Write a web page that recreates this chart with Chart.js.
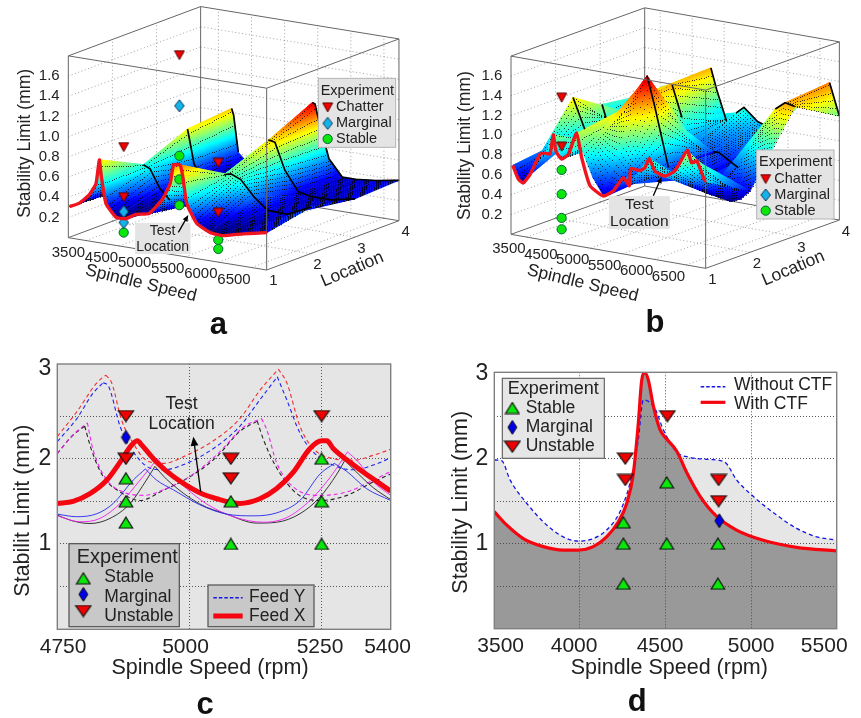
<!DOCTYPE html>
<html>
<head>
<meta charset="utf-8">
<title>Stability limit charts</title>
<script src="https://cdn.jsdelivr.net/npm/chart.js@4/dist/chart.umd.min.js"></script>
<style>
html, body { margin: 0; padding: 0; background: #fff; }
canvas { position: absolute; display: block; }
</style>
</head>
<body>
<canvas id="panel-a" width="430" height="340" style="left:0;top:0"></canvas>
<canvas id="panel-b" width="431" height="340" style="left:430px;top:0"></canvas>
<canvas id="panel-c" width="430" height="378" style="left:0;top:340px"></canvas>
<canvas id="panel-d" width="431" height="378" style="left:430px;top:340px"></canvas>
<script>
// ---- panel a: surface, one row per location
const aSpeeds = [3750,3900,4050,4150,4200,4230,4300,4450,4600,4750,4950,5150,5270,5320,5420,5460,5520,5670,5870,6070,6370,6730];
const aLoc1 = [.31,.36,.46,.58,.82,.66,.40,.28,.28,.34,.37,.53,.70,.89,.90,.79,.53,.35,.28,.27,.32,.37];
const aLoc2 = [.30,.34,.42,.50,.61,.60,.58,.40,.30,.28,.30,.38,.48,.58,.64,.65,.66,.62,.47,.36,.35,.46];
const aLoc3 = [.30,.36,.50,.65,.80,.70,.46,.33,.30,.30,.34,.46,.60,.72,.82,.82,.81,.55,.36,.33,.33,.38];
const aLoc4 = [.30,.38,.55,.70,.84,.78,.42,.32,.30,.32,.40,.58,.80,.95,1.03,1.02,.85,.50,.34,.34,.36,.40];
const aChatter = [[4568,.987],[4568,.49],[5409,1.987],[5996,.983],[5996,.49]];
const aMarginal = [[4568,.347],[4568,.24],[5409,1.485]];
const aStable = [[4568,.14],[5409,.99],[5409,.756],[5409,.50],[5996,.22],[5996,.13]];

// ---- panel b: surface, one row per location
const bSpeeds = [3786,3878,3954,4030,4213,4290,4427,4549,4671,4793,4884,5037,5189,5311,5524,5616,5768,5921,6134,6317,6500,6652,6805];
const bLoc1 = [.70,.57,.54,.62,.86,.88,1.08,.85,.91,1.14,.95,.72,.57,.58,.77,.72,.87,1.01,.86,.93,1.16,1.07,.87];
const bLoc2 = [.72,.80,.95,1.25,.95,.90,.85,.85,.95,1.10,1.25,1.45,1.60,1.30,.71,.68,.62,.58,.52,.50,.48,.52,.62];
const bLoc3 = [.99,.80,.74,.80,.95,1.0,1.1,1.18,1.25,1.29,1.31,1.0,.75,.72,.71,.71,.65,.59,.75,1.08,1.25,1.33,1.31];
const bLoc4 = [.90,.95,1.0,1.04,1.07,.80,.55,.70,.90,1.31,1.10,.80,.90,.97,.85,.83,.90,1.0,1.10,1.20,1.30,1.37,1.05];
const bTestSpeeds = [3783,3872,3948,4055,4210,4290,4366,4418,4460,4549,4655,4783,4863,4994,5201,5360,5515,5610,5631,5777,5854,5921,6012,6165,6323,6518,6585,6665,6796];
const bTestLimit = [.70,.57,.54,.64,.86,.88,.88,1.08,.92,.85,.91,1.14,.90,.63,.55,.62,.77,.70,.875,.87,.91,1.01,.89,.86,.93,1.16,1.04,1.07,.87];
const bChatter = [[4549,1.47],[4549,.975]];
const bStable = [[4549,.74],[4549,.495],[4549,.255],[4549,.14]];

// ---- shared 3d axis ticks
const speedTickValues = [4000,4500,5000,5500,6000,6500];
const speedTickLabels = ['3500','4500','5000','5500','6000','6500'];
const locationTicks = [1,2,3,4];
const limitTicks = [.2,.4,.6,.8,1.0,1.2,1.4,1.6];

// ---- panel c
const cBlueSolid = [[4750,1.35],[4787,1.32],[4825,1.355],[4856,1.475],[4894,1.75],[4917,1.88],[4938,1.75],[4970,1.635],[5020,1.46],[5071,1.35],[5122,1.33],[5166,1.365],[5210,1.51],[5248,1.82],[5275,1.945],[5299,1.85],[5336,1.65],[5382,1.51]];
const cMagentaSolid = [[4750,1.33],[4793,1.26],[4831,1.30],[4869,1.475],[4907,1.75],[4940,2.0],[4957,1.87],[4995,1.65],[5033,1.47],[5084,1.32],[5141,1.255],[5185,1.31],[5229,1.51],[5267,1.78],[5300,2.08],[5321,1.96],[5349,1.73],[5382,1.57]];
const cBlackSolid = [[4750,1.34],[4774,1.28],[4812,1.24],[4850,1.30],[4888,1.475],[4919,1.75],[4935,1.91],[4957,1.76],[5020,1.47],[5071,1.35],[5128,1.245],[5166,1.255],[5210,1.355],[5248,1.55],[5280,1.82],[5295,1.98],[5311,1.88],[5349,1.66],[5382,1.52]];
const cRedDash = [[4750,2.26],[4787,2.55],[4825,2.89],[4842,2.98],[4853,2.89],[4872,2.45],[4894,2.18],[4919,1.98],[4951,1.945],[4995,2.04],[5046,2.21],[5096,2.47],[5134,2.80],[5169,3.05],[5185,2.89],[5210,2.38],[5235,2.12],[5273,2.0],[5311,1.98],[5349,2.04],[5382,2.11]];
const cBlueDash = [[4750,2.2],[4787,2.47],[4818,2.77],[4837,2.89],[4847,2.85],[4869,2.38],[4894,2.08],[4926,1.89],[4951,1.87],[4995,1.945],[5046,2.12],[5096,2.38],[5134,2.69],[5167,2.96],[5185,2.69],[5210,2.30],[5235,2.08],[5273,1.925],[5311,1.87],[5349,1.925],[5382,2.01]];
const cMagentaDash = [[4750,2.06],[4780,2.28],[4807,2.42],[4818,2.10],[4844,1.75],[4875,1.61],[4913,1.57],[4957,1.65],[5008,1.82],[5058,2.08],[5103,2.37],[5137,2.47],[5147,2.34],[5166,1.95],[5197,1.67],[5248,1.57],[5299,1.61],[5343,1.73],[5382,1.85]];
const cBlackDash = [[4750,2.06],[4777,2.26],[4802,2.38],[4815,2.10],[4837,1.79],[4869,1.61],[4907,1.51],[4951,1.63],[5002,1.79],[5052,2.02],[5096,2.32],[5129,2.44],[5141,2.22],[5166,1.89],[5204,1.59],[5248,1.51],[5299,1.57],[5343,1.71],[5382,1.82]];
const cFeedX = [[4750,1.475],[4780,1.50],[4812,1.59],[4844,1.75],[4869,1.96],[4891,2.16],[4902,2.21],[4910,2.16],[4938,1.96],[4970,1.79],[5020,1.60],[5052,1.53],[5096,1.475],[5134,1.53],[5166,1.65],[5197,1.84],[5229,2.12],[5251,2.21],[5261,2.21],[5273,2.12],[5311,1.93],[5349,1.76],[5382,1.62]];
const cStable = [[4880,1.25],[4880,1.5],[4880,1.77],[5079,1.5],[5079,1.0],[5251,2.0],[5251,1.5],[5251,1.0]];
const cMarginal = [[4880,2.25]];
const cUnstable = [[4880,2.5],[4880,2.0],[5079,2.0],[5079,1.77],[5251,2.5]];
const cGridX = [5000,5250];
const cLabelX = [4761,4993,5248,5376];
const cLabelText = ['4750','5000','5250','5400'];
const cGridY = [.5,1,1.5,2,2.5];
const cLabelY = {1:'1',2:'2',3.06:'3'};

// ---- panel d
const dWithoutCtf = [[3500,1.984],[3543,1.976],[3592,1.75],[3689,1.475],[3806,1.22],[3903,1.08],[3991,1.03],[4078,1.06],[4156,1.16],[4234,1.376],[4292,1.71],[4341,2.22],[4370,2.69],[4438,2.59],[4487,2.34],[4565,2.08],[4643,2.015],[4760,1.99],[4847,1.957],[4915,1.75],[4993,1.59],[5149,1.337],[5266,1.18],[5383,1.08],[5500,1.043]];
const dWithCtf = [[3500,1.376],[3572,1.22],[3669,1.06],[3786,.965],[3903,.925],[3991,.925],[4078,.965],[4156,1.08],[4224,1.255],[4273,1.47],[4312,1.82],[4341,2.41],[4361,2.92],[4380,3.01],[4400,2.92],[4429,2.62],[4468,2.34],[4507,2.23],[4565,2.09],[4623,1.84],[4701,1.56],[4799,1.32],[4915,1.16],[5071,1.04],[5266,.957],[5500,.914]];
const dStable = [[4254,1.25],[4254,1.0],[4254,.53],[4507,1.72],[4507,1.0],[4806,1.0],[4806,.53]];
const dMarginal = [[4814,1.27]];
const dUnstable = [[4265,2.0],[4265,1.75],[4511,2.5],[4810,1.75],[4810,1.5]];
const dGridX = [4000,4500,5000];
const dLabelX = [3537,3966,4468,5000,5427];
const dLabelText = ['3500','4000','4500','5000','5500'];
const dGridY = [.5,1,1.5,2,2.5];
const dLabelY = {1:'1',2:'2',3:'3'};

Chart.defaults.font.family = '"Liberation Sans", Arial, sans-serif';
Chart.defaults.color = '#222';
Chart.defaults.animation = false;

const FONT = '"Liberation Sans", Arial, sans-serif';
const z3 = v => v / 3; // layout numbers below were measured on 3x crops

function pairs(list) {
    return list.map(p => ({ x: p[0], y: p[1] }));
}

// break the line at each sharp crest, so the monotone curve keeps its cusp
function withCusps(list) {
    const out = [];
    list.forEach((p, i) => {
        out.push({ x: p[0], y: p[1] });
        if (i > 0 && i < list.length - 1 && p[1] > list[i - 1][1] && p[1] > list[i + 1][1]) {
            out.push({ x: NaN, y: NaN }, { x: p[0], y: p[1] });
        }
    });
    return out;
}

// orthographic projection of (speed, location, limit) on the canvas
function project(view, speed, loc, limit) {
    const u = (speed - view.sMin) / (view.sMax - view.sMin);
    return {
        x: view.x0 + view.sdx * u + view.ldx * (loc - 1),
        y: view.y0 + view.sdy * u + view.ldy * (loc - 1) + view.zdy * limit
    };
}

const jetStops = [[0,'#00007a'],[.12,'#0000ff'],[.37,'#00ffff'],[.62,'#ffff00'],[.87,'#ff0000'],[1,'#800000']];

// paint one triangle with the exact linear colour ramp of its three limits
function fillTriangle(ctx, pts, ts) {
    const [a, b, c] = pts;
    const det = (b.x - a.x) * (c.y - a.y) - (c.x - a.x) * (b.y - a.y);
    let style = '#0000ff';
    if (Math.abs(det) > 1e-6) {
        const gx = ((ts[1] - ts[0]) * (c.y - a.y) - (ts[2] - ts[0]) * (b.y - a.y)) / det;
        const gy = ((ts[2] - ts[0]) * (b.x - a.x) - (ts[1] - ts[0]) * (c.x - a.x)) / det;
        const g2 = gx * gx + gy * gy;
        if (g2 > 1e-10) {
            const k0 = (0 - ts[0]) / g2;
            const k1 = (1 - ts[0]) / g2;
            const grad = ctx.createLinearGradient(a.x + gx * k0, a.y + gy * k0, a.x + gx * k1, a.y + gy * k1);
            jetStops.forEach(s => grad.addColorStop(s[0], s[1]));
            style = grad;
        }
    }
    ctx.beginPath();
    ctx.moveTo(a.x, a.y);
    ctx.lineTo(b.x, b.y);
    ctx.lineTo(c.x, c.y);
    ctx.closePath();
    ctx.fillStyle = style;
    ctx.strokeStyle = style;
    ctx.lineWidth = 0.7;
    ctx.fill();
    ctx.stroke();
}

function drawSurface(chart, cfg) {
    const ctx = chart.ctx;
    const xs = chart.scales.x, ys = chart.scales.y;
    const toPx = (s, l, v) => {
        const p = project(cfg.view, s, l, v);
        return { x: xs.getPixelForValue(p.x), y: ys.getPixelForValue(p.y) };
    };
    const tOf = v => (v - cfg.lo) / (cfg.hi - cfg.lo);
    const drawRidge = r => {
        ctx.strokeStyle = '#000';
        ctx.lineWidth = 1.7;
        (cfg.ridges[r] || []).forEach(seg => {
            ctx.beginPath();
            for (let i = seg[0]; i <= seg[1]; i++) {
                const p = toPx(cfg.speeds[i], r + 1, cfg.rows[r][i]);
                ctx.lineTo(p.x, p.y);
            }
            ctx.stroke();
        });
    };
    ctx.save();
    // back to front: far location first, low speed first
    for (let r = cfg.rows.length - 2; r >= 0; r--) {
        for (let i = 0; i < cfg.speeds.length - 1; i++) {
            const s0 = cfg.speeds[i], s1 = cfg.speeds[i + 1];
            const z00 = cfg.rows[r][i], z10 = cfg.rows[r][i + 1];
            const z01 = cfg.rows[r + 1][i], z11 = cfg.rows[r + 1][i + 1];
            const p00 = toPx(s0, r + 1, z00), p10 = toPx(s1, r + 1, z10);
            const p01 = toPx(s0, r + 2, z01), p11 = toPx(s1, r + 2, z11);
            fillTriangle(ctx, [p01, p11, p00], [tOf(z01), tOf(z11), tOf(z00)]);
            fillTriangle(ctx, [p11, p10, p00], [tOf(z11), tOf(z10), tOf(z00)]);
            // mesh dots, the dark grain of the surface
            ctx.fillStyle = 'rgba(0,0,0,0.75)';
            const firstS = Math.ceil(s0 / cfg.meshSpeed) * cfg.meshSpeed;
            for (let s = firstS; s < s1; s += cfg.meshSpeed) {
                const a = (s - s0) / (s1 - s0);
                for (let j = 0; j < cfg.meshLoc; j++) {
                    const b = j / cfg.meshLoc;
                    const front = z00 + (z10 - z00) * a;
                    const back = z01 + (z11 - z01) * a;
                    const p = toPx(s, r + 1 + b, front + (back - front) * b);
                    ctx.fillRect(Math.round(p.x), Math.round(p.y), 1, 1);
                }
            }
        }
        drawRidge(r + 1);
    }
    ctx.restore();
}

function drawLabel(ctx, text, x, y, font, opts) {
    const o = opts || {};
    ctx.save();
    ctx.translate(z3(x), z3(y));
    if (o.rot) ctx.rotate(o.rot * Math.PI / 180);
    ctx.font = font;
    ctx.fillStyle = o.color || '#222';
    ctx.textAlign = o.align || 'center';
    ctx.textBaseline = 'middle';
    ctx.fillText(text, 0, 0);
    ctx.restore();
}

function drawBox(ctx, x0, y0, x1, y1, fill, stroke, width) {
    ctx.save();
    ctx.fillStyle = fill;
    ctx.fillRect(z3(x0), z3(y0), z3(x1 - x0), z3(y1 - y0));
    ctx.strokeStyle = stroke;
    ctx.lineWidth = width || 1;
    ctx.strokeRect(z3(x0), z3(y0), z3(x1 - x0), z3(y1 - y0));
    ctx.restore();
}

function drawArrow(ctx, x0, y0, x1, y1, head) {
    const a = Math.atan2(y1 - y0, x1 - x0);
    ctx.save();
    ctx.strokeStyle = '#000';
    ctx.fillStyle = '#000';
    ctx.lineWidth = 1.3;
    ctx.beginPath();
    ctx.moveTo(z3(x0), z3(y0));
    ctx.lineTo(z3(x1) - Math.cos(a) * head * 0.6, z3(y1) - Math.sin(a) * head * 0.6);
    ctx.stroke();
    ctx.beginPath();
    ctx.moveTo(z3(x1), z3(y1));
    ctx.lineTo(z3(x1) - Math.cos(a - .4) * head, z3(y1) - Math.sin(a - .4) * head);
    ctx.lineTo(z3(x1) - Math.cos(a + .4) * head, z3(y1) - Math.sin(a + .4) * head);
    ctx.closePath();
    ctx.fill();
    ctx.restore();
}

function legendMarker(ctx, m, x, y) {
    ctx.save();
    ctx.fillStyle = m.fill;
    ctx.strokeStyle = m.stroke;
    ctx.lineWidth = 1;
    Chart.helpers.drawPoint(ctx, { pointStyle: m.style, radius: m.radius, rotation: 0, borderWidth: 1 }, z3(x), z3(y));
    ctx.restore();
}

// marker images, so a triangle is centred on its value and has the right width
function markerImage(w, h, path, fill, stroke, lineWidth) {
    const c = document.createElement('canvas');
    c.width = Math.ceil(w) + 2;
    c.height = Math.ceil(h) + 2;
    const g = c.getContext('2d');
    g.translate(c.width / 2, c.height / 2);
    g.beginPath();
    path.forEach((p, i) => {
        if (i === 0) g.moveTo(p[0] * w / 2, p[1] * h / 2);
        else g.lineTo(p[0] * w / 2, p[1] * h / 2);
    });
    g.closePath();
    g.fillStyle = fill;
    g.strokeStyle = stroke;
    g.lineWidth = lineWidth;
    g.lineJoin = 'miter';
    g.fill();
    g.stroke();
    return c;
}
const upPath = [[0,-1],[1,1],[-1,1]];
const downPath = [[-1,-1],[1,-1],[0,1]];
const diamondPath = [[0,-1],[1,0],[0,1],[-1,0]];

// ---- 3d panels
function gridPoints(view) {
    const out = [];
    const seg = (a, b) => {
        out.push(project(view, ...a), project(view, ...b), { x: NaN, y: NaN });
    };
    limitTicks.forEach(v => {
        seg([view.sMin, 1, v], [view.sMin, 4, v]);
        seg([view.sMin, 4, v], [view.sMax, 4, v]);
    });
    speedTickValues.forEach(s => {
        seg([s, 4, 0], [s, 4, view.zMax]);
        seg([s, 1, 0], [s, 4, 0]);
    });
    locationTicks.slice(1, 3).forEach(l => {
        seg([view.sMin, l, 0], [view.sMin, l, view.zMax]);
        seg([view.sMin, l, 0], [view.sMax, l, 0]);
    });
    return out;
}

function boxEdges(view, corners) {
    const out = [];
    corners.forEach(e => {
        out.push(project(view, ...e[0]), project(view, ...e[1]), { x: NaN, y: NaN });
    });
    return out;
}

function markerDataset(view, list, style) {
    return {
        label: style.label,
        data: list.map(p => project(view, p[0], 1, p[1])),
        pointStyle: style.style,
        pointRadius: style.radius,
        pointBackgroundColor: style.fill,
        pointBorderColor: style.stroke,
        pointBorderWidth: 1,
        showLine: false,
        order: 1
    };
}

const chatterMark = { label: 'Chatter', style: markerImage(10, 9, downPath, '#f00000', '#500', 1), radius: 6, fill: '#f00000', stroke: '#400' };
const marginalMark = { label: 'Marginal', style: markerImage(9.5, 12, diamondPath, '#12b4ea', '#135', 1), radius: 5.5, fill: '#12b4ea', stroke: '#137' };
const stableMark = { label: 'Stable', style: 'circle', radius: 4.6, fill: '#0be60b', stroke: '#063' };

function surfaceChart(id, cfg) {
    const view = cfg.view;
    const { sMin, sMax, zMax } = view;
    const back = [[[sMin,1,0],[sMin,4,0]], [[sMin,4,0],[sMax,4,0]], [[sMin,4,0],[sMin,4,zMax]]];
    const front = [
        [[sMin,1,0],[sMax,1,0]], [[sMax,1,0],[sMax,4,0]], [[sMin,1,0],[sMin,1,zMax]],
        [[sMax,4,0],[sMax,4,zMax]], [[sMax,1,0],[sMax,1,zMax]],
        [[sMin,1,zMax],[sMax,1,zMax]], [[sMax,1,zMax],[sMax,4,zMax]],
        [[sMin,1,zMax],[sMin,4,zMax]], [[sMin,4,zMax],[sMax,4,zMax]]
    ];
    const canvas = document.getElementById(id);
    return new Chart(canvas, {
        type: 'scatter',
        data: {
            datasets: [
                { label: 'grid', data: gridPoints(view), showLine: true, pointRadius: 0, borderColor: '#8a8a8a', borderWidth: .8, borderDash: [1, 2.5], order: 6 },
                { label: 'back', data: boxEdges(view, back), showLine: true, pointRadius: 0, borderColor: '#666', borderWidth: 1, order: 5 },
                { label: 'surface', data: cfg.rows[0].map((v, i) => project(view, cfg.speeds[i], 1, v)), pointRadius: 0, showLine: false, order: 4 },
                { label: 'box', data: boxEdges(view, front), showLine: true, pointRadius: 0, borderColor: '#666', borderWidth: 1, order: 3 },
                markerDataset(view, cfg.chatter, chatterMark),
                markerDataset(view, cfg.marginal, marginalMark),
                markerDataset(view, cfg.stable, stableMark),
                { label: 'Test location', data: cfg.testSpeeds.map((s, i) => project(view, s, 1, cfg.testLimit[i])), showLine: true, pointRadius: 0, borderColor: '#f0141e', borderWidth: 3.4, borderJoinStyle: 'round', tension: .15, order: 0 }
            ]
        },
        options: {
            responsive: false,
            layout: { padding: 0, autoPadding: false },
            plugins: { legend: { display: false }, tooltip: { enabled: false } },
            scales: {
                x: { type: 'linear', display: false, min: 0, max: canvas.width },
                y: { type: 'linear', display: false, min: 0, max: canvas.height, reverse: true }
            }
        },
        plugins: [{
            id: 'surfacePanel',
            beforeDatasetDraw(chart, args) {
                if (chart.data.datasets[args.index].label === 'surface') drawSurface(chart, cfg);
            },
            afterDatasetsDraw(chart) {
                cfg.decorate(chart.ctx, view);
            }
        }]
    });
}

function axisLabels3d(ctx, view, o) {
    const tickFont = '15px ' + FONT;
    limitTicks.forEach(v => {
        const p = project(view, view.sMin, 1, v);
        drawLabel(ctx, v.toFixed(1), p.x * 3 - 26, p.y * 3, tickFont, { align: 'right' });
    });
    speedTickValues.forEach((s, i) => {
        const p = project(view, s, 1, 0);
        drawLabel(ctx, speedTickLabels[i], p.x * 3 - 53, p.y * 3 + 36, tickFont);
    });
    locationTicks.forEach(l => {
        const p = project(view, view.sMax, l, 0);
        drawLabel(ctx, String(l), p.x * 3 + 20, p.y * 3 + 34, tickFont);
    });
    const titleFont = '17.5px ' + FONT;
    drawLabel(ctx, 'Stability Limit (mm)', o.limitTitle[0], o.limitTitle[1], titleFont, { rot: -90 });
    drawLabel(ctx, 'Spindle Speed', o.speedTitle[0], o.speedTitle[1], titleFont, { rot: 13.4 });
    drawLabel(ctx, 'Location', o.locTitle[0], o.locTitle[1], titleFont, { rot: -23 });
}

function legend3d(ctx, x0, y0, x1, y1, textX, markX, titleY, rowY) {
    drawBox(ctx, x0, y0, x1, y1, '#e4e4e4', '#b5b5b5', 1);
    drawLabel(ctx, 'Experiment', x0 + 7, titleY, '14.5px ' + FONT, { align: 'left' });
    [chatterMark, marginalMark, stableMark].forEach((m, i) => {
        legendMarker(ctx, m, markX, rowY[i]);
        drawLabel(ctx, m.label, textX, rowY[i], '14.5px ' + FONT, { align: 'left' });
    });
}

surfaceChart('panel-a', {
    view: { x0: 205/3, y0: 713/3, sdx: 595/3, sdy: 97/3, ldx: 132.3/3, ldy: -49.3/3, zdy: -303/3, sMin: 3732, sMax: 6727, zMax: 1.8 },
    speeds: aSpeeds,
    rows: [aLoc1, aLoc2, aLoc3, aLoc4],
    ridges: { 1: [[4,8],[14,21]], 2: [[4,7],[14,21]], 3: [[4,6],[14,21]] },
    lo: .27, hi: 1.12, meshSpeed: 36, meshLoc: 19,
    chatter: aChatter, marginal: aMarginal, stable: aStable,
    testSpeeds: aSpeeds, testLimit: aLoc1,
    decorate(ctx, view) {
        axisLabels3d(ctx, view, { limitTitle: [75, 430], speedTitle: [423, 850], locTitle: [1057, 808] });
        legend3d(ctx, 955, 235, 1187, 442, 1008, 983, 272, [322, 370, 417]);
        drawBox(ctx, 407, 670, 570, 760, '#e4e4e4', '#e4e4e4', 0);
        drawLabel(ctx, 'Test', 488, 692, '14px ' + FONT);
        drawLabel(ctx, 'Location', 488, 741, '14px ' + FONT);
        drawArrow(ctx, 535, 697, 565, 645, 7);
        drawLabel(ctx, 'a', 655, 975, 'bold 31px ' + FONT, { color: '#111' });
    }
});

surfaceChart('panel-b', {
    view: { x0: 243/3, y0: 703/3, sdx: 584/3, sdy: 102/3, ldx: 133.7/3, ldy: -48.3/3, zdy: -297/3, sMin: 3756, sMax: 6805, zMax: 1.8 },
    speeds: bSpeeds,
    rows: [bLoc1, bLoc2, bLoc3, bLoc4],
    ridges: { 1: [[3,4],[12,14]], 2: [[0,2],[10,11],[14,17],[20,22]], 3: [[9,11],[12,15],[21,22]] },
    lo: .47, hi: 1.68, meshSpeed: 36, meshLoc: 19,
    chatter: bChatter, marginal: [], stable: bStable,
    testSpeeds: bTestSpeeds, testLimit: bTestLimit,
    decorate(ctx, view) {
        axisLabels3d(ctx, view, { limitTitle: [105, 437], speedTitle: [458, 850], locTitle: [1090, 805] });
        legend3d(ctx, 980, 450, 1212, 657, 1033, 1007, 487, [537, 585, 632]);
        drawBox(ctx, 538, 590, 718, 685, '#e4e4e4', '#e4e4e4', 0);
        drawLabel(ctx, 'Test', 628, 613, '15.5px ' + FONT);
        drawLabel(ctx, 'Location', 628, 666, '15.5px ' + FONT);
        drawArrow(ctx, 670, 587, 695, 530, 7);
        drawLabel(ctx, 'b', 675, 970, 'bold 31px ' + FONT, { color: '#111' });
    }
});

// ---- 2d panels
const stableTri = { style: markerImage(13.5, 11, upPath, '#0be60b', '#111', 1.2), radius: 8, fill: '#0be60b', stroke: '#111' };
const unstableTri = { style: markerImage(15.5, 11, downPath, '#f00000', '#111', 1.2), radius: 9, fill: '#f00000', stroke: '#111' };
const blueDiamond = { style: markerImage(9, 14, diamondPath, '#0000e6', '#111', 1), radius: 8, fill: '#0000e6', stroke: '#111' };

function curve(label, list, color, width, dash, extra) {
    return Object.assign({
        label: label,
        data: pairs(list),
        showLine: true,
        pointRadius: 0,
        borderColor: color,
        borderWidth: width,
        borderDash: dash || [],
        cubicInterpolationMode: 'monotone'
    }, extra);
}

function thinCurve(label, list, color, width, dash, order) {
    return curve(label, list, color, width, dash, { order: order, data: withCusps(list) });
}

function marks(label, list, m) {
    return {
        label: label,
        data: pairs(list),
        showLine: false,
        pointStyle: m.style,
        pointRadius: m.radius,
        pointBackgroundColor: m.fill,
        pointBorderColor: m.stroke,
        pointBorderWidth: 1,
        order: 0
    };
}

function planarChart(id, cfg) {
    const unique = (v, i, a) => a.indexOf(v) === i;
    const xTicks = cfg.gridX.concat(cfg.labelX).filter(unique);
    const yTicks = cfg.gridY.concat(Object.keys(cfg.labelY).map(Number)).filter(unique);
    const gridColor = list => ctx => (ctx.tick && list.includes(ctx.tick.value)) ? '#444' : 'rgba(0,0,0,0)';
    return new Chart(document.getElementById(id), {
        type: 'scatter',
        data: { datasets: cfg.datasets },
        options: {
            responsive: false,
            layout: { padding: { left: 0, top: cfg.top, right: cfg.right, bottom: 0 }, autoPadding: false },
            plugins: { legend: { display: false }, tooltip: { enabled: false }, filler: { drawTime: 'beforeDraw' } },
            scales: {
                x: {
                    type: 'linear', min: cfg.xMin, max: cfg.xMax,
                    afterFit(s) { s.height = cfg.below; },
                    afterBuildTicks(s) { s.ticks = xTicks.map(v => ({ value: v })); },
                    grid: { color: gridColor(cfg.gridX), lineWidth: .9, drawTicks: false },
                    border: { display: false, dash: [1, 2] },
                    ticks: {
                        autoSkip: false, maxRotation: 0, padding: 5,
                        font: { size: 21 }, color: '#222',
                        callback: v => { const k = cfg.labelX.indexOf(v); return k >= 0 ? cfg.labelText[k] : ''; }
                    }
                },
                y: {
                    type: 'linear', min: 0, max: cfg.yMax,
                    afterFit(s) { s.width = cfg.left; },
                    afterBuildTicks(s) { s.ticks = yTicks.map(v => ({ value: v })); },
                    grid: { color: gridColor(cfg.gridY), lineWidth: .9, drawTicks: false },
                    border: { display: false, dash: [1, 2] },
                    ticks: {
                        autoSkip: false, padding: 6,
                        font: { size: 23 }, color: '#222',
                        callback: v => cfg.labelY[v] || ''
                    }
                }
            }
        },
        plugins: [{
            id: 'planarPanel',
            beforeDraw(chart) {
                if (!cfg.areaFill) return;
                const a = chart.chartArea;
                chart.ctx.save();
                chart.ctx.fillStyle = cfg.areaFill;
                chart.ctx.fillRect(a.left, a.top, a.width, a.height);
                chart.ctx.restore();
            },
            afterDatasetsDraw(chart) {
                const a = chart.chartArea, ctx = chart.ctx;
                ctx.save();
                ctx.strokeStyle = '#808080';
                ctx.lineWidth = 1.4;
                ctx.strokeRect(a.left, a.top, a.width, a.height);
                ctx.restore();
                cfg.decorate(ctx);
            }
        }]
    });
}

function legendLine(ctx, x0, x1, y, color, width, dash) {
    ctx.save();
    ctx.strokeStyle = color;
    ctx.lineWidth = width;
    ctx.setLineDash(dash || []);
    ctx.beginPath();
    ctx.moveTo(z3(x0), z3(y));
    ctx.lineTo(z3(x1), z3(y));
    ctx.stroke();
    ctx.restore();
}

planarChart('panel-c', {
    top: 24, right: 39.3, left: 57.3, below: 88.7,
    xMin: 4750, xMax: 5382, yMax: 3.11,
    gridX: cGridX, labelX: cLabelX, labelText: cLabelText, gridY: cGridY, labelY: cLabelY,
    areaFill: '#e5e5e5',
    datasets: [
        marks('Stable', cStable, stableTri),
        marks('Marginal', cMarginal, blueDiamond),
        marks('Unstable', cUnstable, unstableTri),
        curve('Feed X', cFeedX, '#f5050f', 5, null, { order: 1 }),
        thinCurve('Feed Y', cBlueDash, '#2020f0', 1.1, [4, 3], 3),
        thinCurve('Feed Y 2', cRedDash, '#f03030', 1.1, [4, 3], 4),
        thinCurve('Feed Y 3', cMagentaDash, '#f020f0', 1.1, [4, 3], 3),
        thinCurve('Feed Y 4', cBlackDash, '#222', 1.1, [4, 3], 4),
        thinCurve('Feed X 2', cBlueSolid, '#2828f0', .9, null, 2),
        thinCurve('Feed X 3', cMagentaSolid, '#f020f0', .9, null, 2),
        thinCurve('Feed X 4', cBlackSolid, '#222', .9, null, 2)
    ],
    decorate(ctx) {
        drawLabel(ctx, 'Stabilit Limit (mm)', 70, 512, '21.5px ' + FONT, { rot: -90 });
        drawLabel(ctx, 'Spindle Speed (rpm)', 630, 985, '21.5px ' + FONT);
        drawLabel(ctx, 'Test', 545, 193, '17.5px ' + FONT);
        drawLabel(ctx, 'Location', 545, 254, '17.5px ' + FONT);
        drawArrow(ctx, 602, 455, 580, 290, 10);
        drawBox(ctx, 207, 611, 538, 860, '#c8c8c8', '#5a5a5a', 1.3);
        drawLabel(ctx, 'Experiment', 230, 651, '20px ' + FONT, { align: 'left' });
        [['Stable', stableTri, 715, 713], ['Marginal', blueDiamond, 763, 771], ['Unstable', unstableTri, 813, 830]].forEach(r => {
            legendMarker(ctx, r[1], 250, r[2]);
            drawLabel(ctx, r[0], 313, r[3], '17.5px ' + FONT, { align: 'left' });
        });
        drawBox(ctx, 624, 735, 942, 860, '#c8c8c8', '#5a5a5a', 1.3);
        legendLine(ctx, 640, 728, 773, '#1414e6', 1.5, [3.5, 2]);
        legendLine(ctx, 640, 728, 828, '#f5050f', 5);
        drawLabel(ctx, 'Feed Y', 747, 773, '17.5px ' + FONT, { align: 'left' });
        drawLabel(ctx, 'Feed X', 747, 830, '17.5px ' + FONT, { align: 'left' });
        drawLabel(ctx, 'c', 615, 1095, 'bold 31px ' + FONT, { color: '#111' });
    }
});

planarChart('panel-d', {
    top: 32.3, right: 24.3, left: 64.3, below: 89.3,
    xMin: 3500, xMax: 5500, yMax: 3.015,
    gridX: dGridX, labelX: dLabelX, labelText: dLabelText, gridY: dGridY, labelY: dLabelY,
    datasets: [
        marks('Stable', dStable, stableTri),
        marks('Marginal', dMarginal, blueDiamond),
        marks('Unstable', dUnstable, unstableTri),
        curve('With CTF', dWithCtf, '#f5050f', 3.2, null, { order: 1, fill: 'origin', backgroundColor: '#999999' }),
        curve('Without CTF', dWithoutCtf, '#1414e6', 1.3, [4, 3], { order: 2, fill: 'origin', backgroundColor: '#e6e6e6' })
    ],
    decorate(ctx) {
        drawLabel(ctx, 'Stability Limit (mm)', 93, 487, '21.5px ' + FONT, { rot: -90 });
        drawLabel(ctx, 'Spindle Speed (rpm)', 718, 985, '21.5px ' + FONT);
        drawBox(ctx, 217, 115, 523, 355, '#e6e6e6', '#666', 1.2);
        drawLabel(ctx, 'Experiment', 233, 146, '18px ' + FONT, { align: 'left' });
        [['Stable', stableTri, 204], ['Marginal', blueDiamond, 262], ['Unstable', unstableTri, 320]].forEach(r => {
            legendMarker(ctx, r[1], 247, r[2]);
            drawLabel(ctx, r[0], 287, r[2], '17.5px ' + FONT, { align: 'left' });
        });
        legendLine(ctx, 812, 886, 140, '#1414e6', 1.5, [3.5, 2]);
        legendLine(ctx, 812, 886, 187, '#f5050f', 3.2);
        drawLabel(ctx, 'Without CTF', 912, 135, '17.5px ' + FONT, { align: 'left' });
        drawLabel(ctx, 'With CTF', 912, 194, '17.5px ' + FONT, { align: 'left' });
        drawLabel(ctx, 'd', 622, 1088, 'bold 31px ' + FONT, { color: '#111' });
    }
});
</script>
</body>
</html>
